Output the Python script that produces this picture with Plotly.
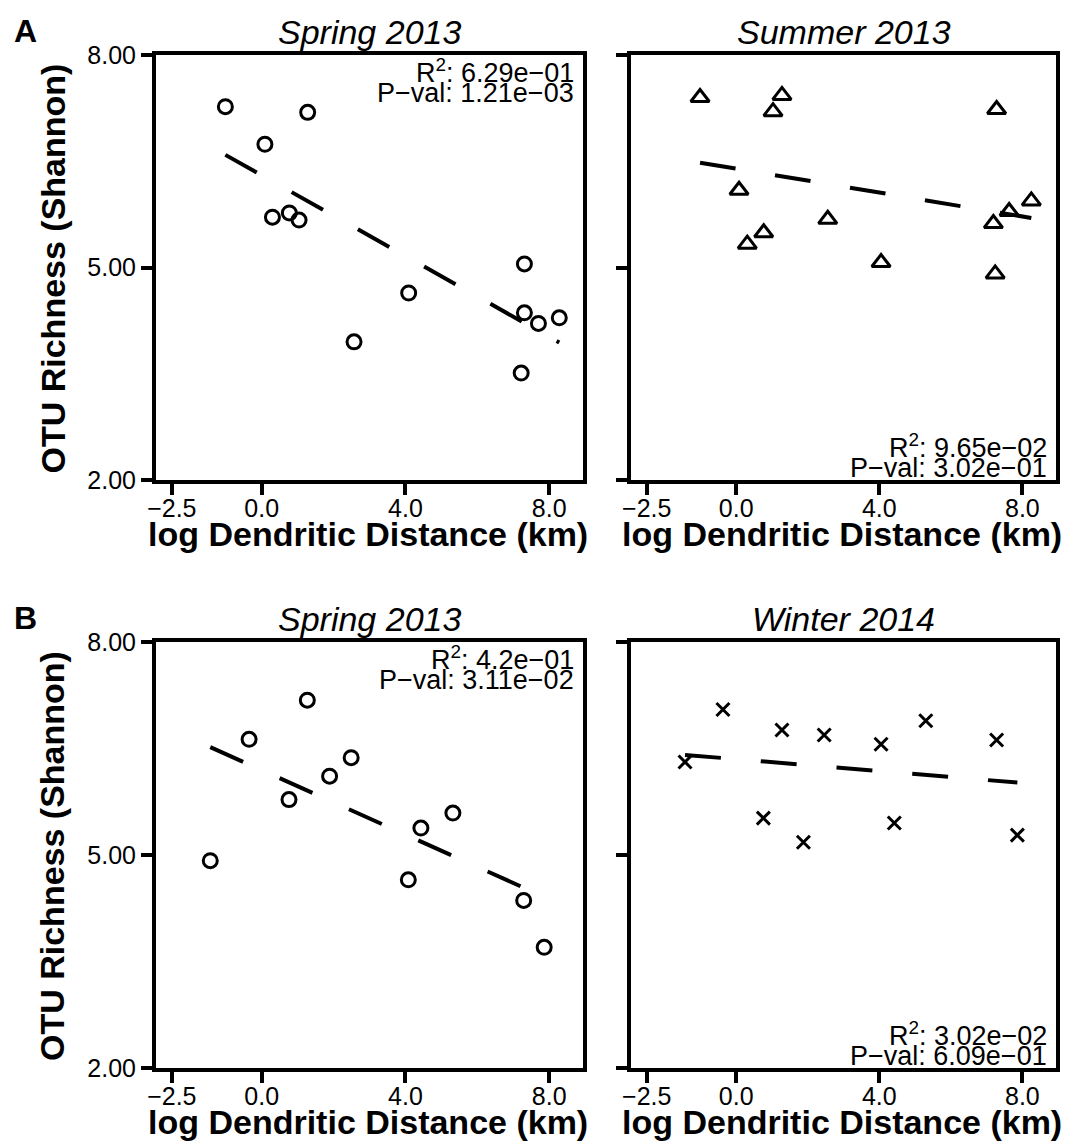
import plotly.graph_objects as go

# ---------------- data ----------------
spring13_a_x = [-1.01, 1.28, 0.09, 0.30, 0.77, 1.04, 4.09, 2.57, 7.31, 7.31, 7.70, 8.28, 7.22]
spring13_a_y = [7.27, 7.19, 6.74, 5.71, 5.77, 5.67, 4.64, 3.95, 5.05, 4.36, 4.21, 4.29, 3.51]
spring13_a_fit_x = [-1.01, 8.28]
spring13_a_fit_y = [6.59, 3.94]

summer13_x = [-1.01, 1.28, 1.03, 7.28, 0.08, 2.56, 0.77, 0.31, 4.05, 7.24, 7.19, 7.63, 8.25]
summer13_y = [7.40, 7.43, 7.20, 7.23, 6.09, 5.68, 5.49, 5.33, 5.07, 4.91, 5.62, 5.79, 5.94]
summer13_fit_x = [-1.01, 8.25]
summer13_fit_y = [6.48, 5.70]

spring13_b_x = [-1.43, -0.35, 1.27, 0.76, 1.89, 2.49, 4.08, 4.43, 5.32, 7.29, 7.86]
spring13_b_y = [4.92, 6.63, 7.18, 5.78, 6.11, 6.37, 4.65, 5.38, 5.59, 4.36, 3.70]
spring13_b_fit_x = [-1.43, 7.86]
spring13_b_fit_y = [6.52, 4.41]

winter14_x = [-1.43, -0.37, 1.28, 2.46, 4.05, 5.30, 7.28, 0.76, 1.88, 4.42, 7.86]
winter14_y = [6.31, 7.05, 6.76, 6.69, 6.56, 6.89, 6.62, 5.52, 5.18, 5.45, 5.28]
winter14_fit_x = [-1.43, 7.86]
winter14_fit_y = [6.41, 6.02]

panel_titles = ["Spring 2013", "Summer 2013", "Spring 2013", "Winter 2014"]
r2_texts = ["6.29e−01", "9.65e−02", "4.2e−01", "3.02e−02"]
pval_texts = ["1.21e−03", "3.02e−01", "3.11e−02", "6.09e−01"]

x_tickvals = [-2.5, 0, 4, 8]
x_ticktext = ["−2.5", "0.0", "4.0", "8.0"]
y_tickvals = [2, 5, 8]
y_ticktext = ["2.00", "5.00", "8.00"]
x_title = "log Dendritic Distance (km)"
y_title = "OTU Richness (Shannon)"

# ---------------- layout geometry (pixels) ----------------
W, H = 1069, 1141
FONT = "Liberation Sans, Arial, Helvetica, sans-serif"


def fx(px):
    return px / W


def fy(py):
    return 1 - py / H


cols = [(156, 583), (631, 1056)]
rows = [(55, 480), (642, 1068)]

panels = [
    dict(x=spring13_a_x, y=spring13_a_y, fx=spring13_a_fit_x, fy=spring13_a_fit_y,
         sym="circle-open", size=14, row=0, col=0, stats_top=True),
    dict(x=summer13_x, y=summer13_y, fx=summer13_fit_x, fy=summer13_fit_y,
         sym="triangle-up-open", size=16, row=0, col=1, stats_top=False),
    dict(x=spring13_b_x, y=spring13_b_y, fx=spring13_b_fit_x, fy=spring13_b_fit_y,
         sym="circle-open", size=14, row=1, col=0, stats_top=True),
    dict(x=winter14_x, y=winter14_y, fx=winter14_fit_x, fy=winter14_fit_y,
         sym="x-thin-open", size=13, row=1, col=1, stats_top=False),
]

fig = go.Figure()
layout = dict(
    width=W, height=H, margin=dict(l=0, r=0, t=0, b=0, autoexpand=False),
    paper_bgcolor="white", plot_bgcolor="white", showlegend=False,
    font=dict(family=FONT, color="black"),
)
annotations = []

for i, p in enumerate(panels):
    n = i + 1
    xa = "x" if n == 1 else f"x{n}"
    ya = "y" if n == 1 else f"y{n}"
    c0, c1 = cols[p["col"]]
    r0, r1 = rows[p["row"]]

    fig.add_trace(go.Scatter(
        x=p["fx"], y=p["fy"], mode="lines", xaxis=xa, yaxis=ya,
        line=dict(color="black", width=4, dash="36px,40px"), hoverinfo="skip"))
    fig.add_trace(go.Scatter(
        x=p["x"], y=p["y"], mode="markers", xaxis=xa, yaxis=ya,
        marker=dict(symbol=p["sym"], size=p["size"], color="black",
                    line=dict(width=3, color="black"))))

    axis_common = dict(showgrid=False, zeroline=False, showline=True, mirror=True,
                       linecolor="black", linewidth=4, ticks="outside",
                       ticklen=11, tickwidth=4, tickcolor="black",
                       tickfont=dict(size=25, family=FONT, color="black"))
    layout["xaxis" if n == 1 else f"xaxis{n}"] = dict(
        axis_common, domain=[fx(c0), fx(c1)], range=[-2.94, 8.94],
        anchor=ya, tickmode="array", tickvals=x_tickvals, ticktext=x_ticktext,
        ticklabelstandoff=-8)
    layout["yaxis" if n == 1 else f"yaxis{n}"] = dict(
        axis_common, domain=[fy(r1), fy(r0)], range=[2, 8],
        anchor=xa, tickmode="array", tickvals=y_tickvals, ticktext=y_ticktext,
        showticklabels=(p["col"] == 0))

    cx = (c0 + c1) / 2
    # panel title
    annotations.append(dict(
        text=f"<i>{panel_titles[i]}</i>", x=fx(cx), y=fy(r0 - 23),
        xref="paper", yref="paper", xanchor="center", yanchor="middle",
        showarrow=False, font=dict(size=34, family=FONT, color="black")))
    # x-axis title
    annotations.append(dict(
        text=f"<b>{x_title}</b>", x=fx(cx - 2), y=fy(r1 + 54),
        xref="paper", yref="paper", xanchor="center", yanchor="middle",
        showarrow=False, font=dict(size=34, family=FONT, color="black")))
    # stats
    if p["stats_top"]:
        y1, y2 = r0 + 16, r0 + 38
    else:
        y1, y2 = r1 - 34, r1 - 12
    annotations.append(dict(
        text=f"R<sup>2</sup>: {r2_texts[i]}", x=fx(c1 - 7), y=fy(y1),
        xref="paper", yref="paper", xanchor="right", yanchor="middle",
        showarrow=False, font=dict(size=27, family=FONT, color="black")))
    annotations.append(dict(
        text=f"P−val: {pval_texts[i]}", x=fx(c1 - 7), y=fy(y2),
        xref="paper", yref="paper", xanchor="right", yanchor="middle",
        showarrow=False, font=dict(size=27, family=FONT, color="black")))

# y-axis titles and panel letters
for r, letter in zip(rows, ["A", "B"]):
    annotations.append(dict(
        text=f"<b>{y_title}</b>", x=fx(52), y=fy((r[0] + r[1]) / 2 + 1),
        xref="paper", yref="paper", xanchor="center", yanchor="middle",
        textangle=-90, showarrow=False,
        font=dict(size=34, family=FONT, color="black")))
    annotations.append(dict(
        text=f"<b>{letter}</b>", x=fx(25), y=fy(r[0] - 24),
        xref="paper", yref="paper", xanchor="center", yanchor="middle",
        showarrow=False, font=dict(size=32, family=FONT, color="black")))

layout["annotations"] = annotations
fig.update_layout(**layout)
fig.write_html("out.html")
